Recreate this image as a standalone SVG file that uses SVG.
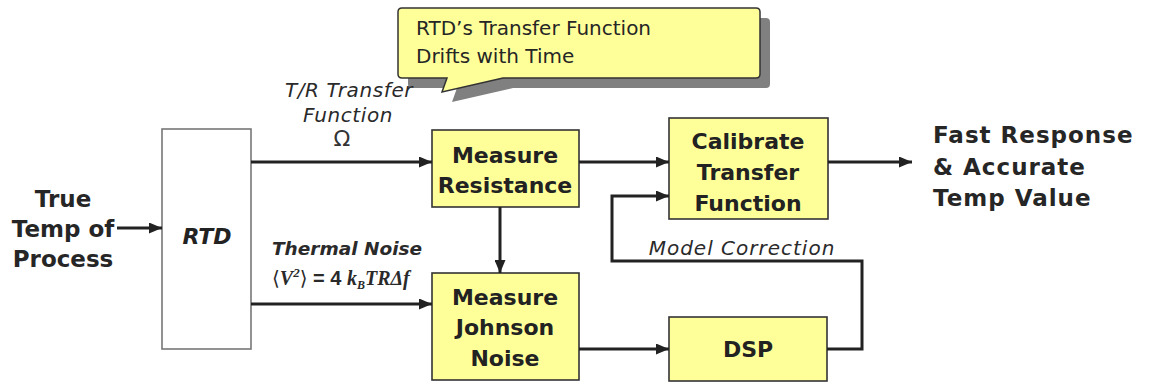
<svg xmlns="http://www.w3.org/2000/svg" width="1152" height="384" viewBox="0 0 1152 384">
<defs>
<style>
.box{fill:#FFFF99;stroke:#333;stroke-width:1.6}
.rtd{fill:#fff;stroke:#777;stroke-width:1.6}
.bt{font-family:"DejaVu Sans",sans-serif;font-weight:bold;font-size:22px;fill:#222;text-anchor:middle}
.big{font-family:"DejaVu Sans",sans-serif;font-weight:bold;font-size:23px;fill:#262626}
.it{font-family:"DejaVu Sans",sans-serif;font-style:italic;font-size:20px;fill:#2a2a2a;text-anchor:middle}
.itb{font-family:"DejaVu Sans",sans-serif;font-style:italic;font-weight:bold;font-size:18.5px;fill:#2a2a2a;text-anchor:middle}
.co{font-family:"DejaVu Sans",sans-serif;font-size:20px;fill:#262626}
.fm{font-family:"Liberation Serif",serif;font-style:italic;font-weight:bold;font-size:20px;fill:#2a2a2a}
.ln{fill:none;stroke:#222;stroke-width:3;marker-end:url(#ah)}
</style>
<marker id="ah" markerUnits="userSpaceOnUse" markerWidth="13" markerHeight="11" refX="13" refY="5.5" orient="auto">
<path d="M0,0 L13,5.5 L0,11 Z" fill="#222"/>
</marker>
</defs>
<rect width="1152" height="384" fill="#fff"/>

<g id="callout">
<path d="M408,22 Q408,18 412,18 L766,18 Q770,18 770,22 L770,84 Q770,88 766,88 L513,88 L452,102 L457,88 L412,88 Q408,88 408,84 Z" fill="#808080"/>
<path d="M398,12 Q398,8 402,8 L756,8 Q760,8 760,12 L760,74 Q760,78 756,78 L503,78 L442,92 L447,78 L402,78 Q398,78 398,74 Z" fill="#FFFF99" stroke="#333" stroke-width="1.5"/>
<text class="co" x="416" y="35">RTD’s Transfer Function</text>
<text class="co" x="416" y="63">Drifts with Time</text>
</g>

<g id="input">
<text class="big" text-anchor="middle" x="63" y="207">True</text>
<text class="big" text-anchor="middle" x="63" y="237">Temp of</text>
<text class="big" text-anchor="middle" x="63" y="267">Process</text>
</g>

<g id="rtd">
<rect class="rtd" x="162" y="129" width="89" height="220"/>
<text class="bt" x="207" y="244" font-style="italic" font-size="24">RTD</text>
</g>

<g id="measure-resistance">
<rect class="box" x="432" y="130" width="147" height="77"/>
<text class="bt" x="505" y="163">Measure</text>
<text class="bt" x="505" y="193">Resistance</text>
</g>

<g id="measure-johnson">
<rect class="box" x="432" y="273" width="147" height="107"/>
<text class="bt" x="505" y="305">Measure</text>
<text class="bt" x="505" y="335">Johnson</text>
<text class="bt" x="505" y="366">Noise</text>
</g>

<g id="calibrate">
<rect class="box" x="669" y="118" width="159" height="101"/>
<text class="bt" x="748" y="149">Calibrate</text>
<text class="bt" x="748" y="180">Transfer</text>
<text class="bt" x="748" y="211">Function</text>
</g>

<g id="dsp">
<rect class="box" x="669" y="317" width="158" height="64"/>
<text class="bt" x="748" y="357" font-size="23">DSP</text>
</g>

<g id="output">
<text class="big" x="933" y="143" font-size="25.5" letter-spacing="1">Fast Response</text>
<text class="big" x="933" y="175" font-size="25.5" letter-spacing="1">&amp; Accurate</text>
<text class="big" x="933" y="206" font-size="25.5" letter-spacing="1">Temp Value</text>
</g>

<g id="connectors">
<path class="ln" d="M117,228 L162,228"/>
<path class="ln" d="M251,162 L432,162"/>
<path class="ln" d="M251,304 L432,304"/>
<path class="ln" d="M500,207 L500,273"/>
<path class="ln" d="M579,162 L669,162"/>
<path class="ln" d="M579,349 L669,349"/>
<path class="ln" d="M827,349 L862,349 L862,261 L612,261 L612,196 L669,196"/>
<path class="ln" d="M828,162 L912,162"/>
</g>

<g id="labels">
<text class="it" x="349" y="97" letter-spacing="0.6">T/R Transfer</text>
<text class="it" x="348" y="122" letter-spacing="0.6">Function</text>
<text x="342" y="146" font-family="DejaVu Sans,sans-serif" font-size="22" fill="#333" text-anchor="middle">Ω</text>
<text class="itb" x="347" y="255">Thermal Noise</text>
<text class="fm" x="272" y="285"><tspan font-family="DejaVu Sans" font-style="normal" font-weight="normal">⟨</tspan><tspan>V</tspan><tspan dy="-8" font-size="13">2</tspan><tspan dy="8" font-family="DejaVu Sans" font-style="normal" font-weight="normal">⟩</tspan><tspan font-family="Liberation Sans" font-style="normal"> = 4 </tspan><tspan>k</tspan><tspan dy="4" font-size="12">B</tspan><tspan dy="-4">TRΔf</tspan></text>
<text class="it" x="742" y="255" font-size="21" letter-spacing="1">Model Correction</text>
</g>
</svg>
